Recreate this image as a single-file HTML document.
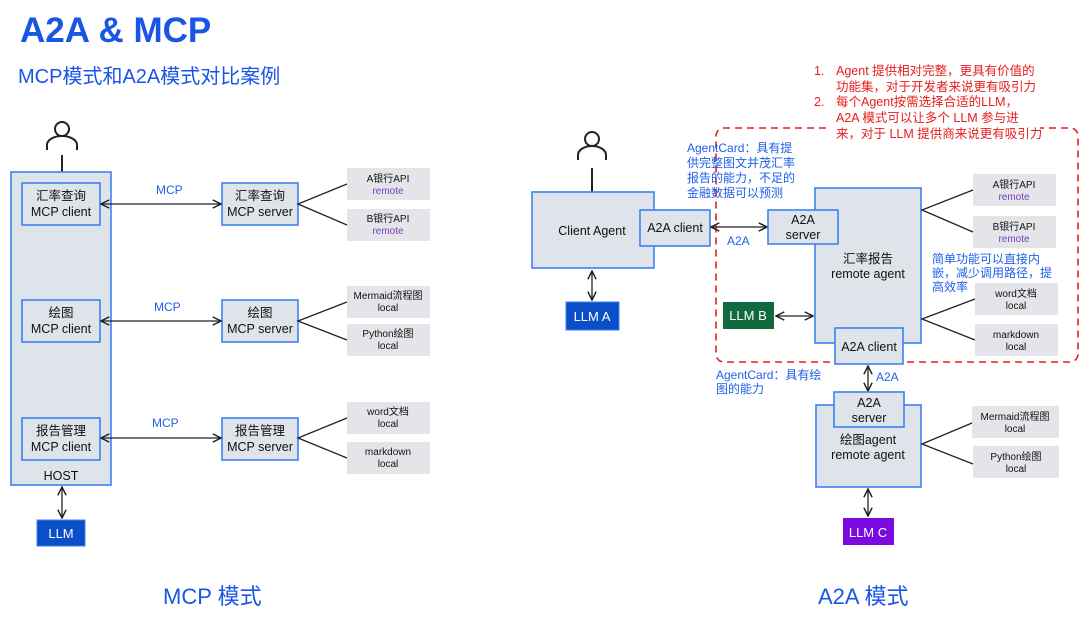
<!DOCTYPE html>
<html><head><meta charset="utf-8"><style>
html,body{margin:0;padding:0;background:#fff;}
svg{display:block;font-family:"Liberation Sans","Noto Sans CJK SC",sans-serif;}
.b{fill:#dfe3ea;stroke:#3b82f0;stroke-width:1.6}
.r{fill:#e3e5e9;}
.t{font-size:12.5px;fill:#111;text-anchor:middle}
.s{font-size:10px;fill:#111;text-anchor:middle}
.p{font-size:10px;fill:#7a3fc0;text-anchor:middle}
.l{stroke:#222;stroke-width:1.3;fill:none}
.bl{fill:#1f5fe8;font-size:12px}
.rd{fill:#e81c1c;font-size:12.5px}
</style></head><body>
<svg width="1080" height="622" viewBox="0 0 1080 622">
<defs><marker id="a" viewBox="0 0 10 10" refX="9" refY="5" markerWidth="8" markerHeight="8" orient="auto-start-reverse"><path d="M1,1 L9,5 L1,9" fill="none" stroke="#222" stroke-width="1.4"/></marker></defs>
<text x="20" y="42" font-size="35" font-weight="bold" fill="#1a55e6">A2A &amp; MCP</text>
<text x="18" y="83" font-size="20" fill="#1a55e6">MCP模式和A2A模式对比案例</text>

<!-- LEFT -->
<circle cx="62" cy="129" r="7" fill="none" stroke="#222" stroke-width="2"/>
<path d="M47,150 v-5 a15,9 0 0 1 30,0 v5" fill="none" stroke="#222" stroke-width="2"/>
<line x1="62" y1="155" x2="62" y2="172" stroke="#222" stroke-width="2"/>
<rect class="b" x="11" y="172" width="100" height="313"/>
<text class="t" x="61" y="480">HOST</text>
<g>
<rect class="b" x="22" y="183" width="78" height="42"/><text class="t" x="61" y="200">汇率查询</text><text class="t" x="61" y="216">MCP client</text>
<rect class="b" x="22" y="300" width="78" height="42"/><text class="t" x="61" y="317">绘图</text><text class="t" x="61" y="333">MCP client</text>
<rect class="b" x="22" y="418" width="78" height="42"/><text class="t" x="61" y="435">报告管理</text><text class="t" x="61" y="451">MCP client</text>
<rect class="b" x="222" y="183" width="76" height="42"/><text class="t" x="260" y="200">汇率查询</text><text class="t" x="260" y="216">MCP server</text>
<rect class="b" x="222" y="300" width="76" height="42"/><text class="t" x="260" y="317">绘图</text><text class="t" x="260" y="333">MCP server</text>
<rect class="b" x="222" y="418" width="76" height="42"/><text class="t" x="260" y="435">报告管理</text><text class="t" x="260" y="451">MCP server</text>
</g>
<line class="l" x1="101" y1="204" x2="221" y2="204" marker-start="url(#a)" marker-end="url(#a)"/>
<line class="l" x1="101" y1="321" x2="221" y2="321" marker-start="url(#a)" marker-end="url(#a)"/>
<line class="l" x1="101" y1="438" x2="221" y2="438" marker-start="url(#a)" marker-end="url(#a)"/>
<text class="bl" x="156" y="194">MCP</text><text class="bl" x="154" y="311">MCP</text><text class="bl" x="152" y="427">MCP</text>
<rect class="r" x="347" y="168" width="83" height="32"/><text class="s" x="388" y="182">A银行API</text><text class="p" x="388" y="194">remote</text>
<rect class="r" x="347" y="209" width="83" height="32"/><text class="s" x="388" y="222">B银行API</text><text class="p" x="388" y="234">remote</text>
<rect class="r" x="347" y="286" width="83" height="32"/><text class="s" x="388" y="299">Mermaid流程图</text><text class="s" x="388" y="311">local</text>
<rect class="r" x="347" y="324" width="83" height="32"/><text class="s" x="388" y="337">Python绘图</text><text class="s" x="388" y="349">local</text>
<rect class="r" x="347" y="402" width="83" height="32"/><text class="s" x="388" y="415">word文档</text><text class="s" x="388" y="427">local</text>
<rect class="r" x="347" y="442" width="83" height="32"/><text class="s" x="388" y="455">markdown</text><text class="s" x="388" y="467">local</text>
<path class="l" d="M347,184 L298,204 L347,225 M347,302 L298,321 L347,340 M347,418 L298,438 L347,458"/>
<line class="l" x1="62" y1="487" x2="62" y2="518" marker-start="url(#a)" marker-end="url(#a)"/>
<rect x="37" y="520" width="48" height="26" fill="#0b4fc8" stroke="#3b82f0"/>
<text x="61" y="538" font-size="13" fill="#fff" text-anchor="middle">LLM</text>
<text x="163" y="604" font-size="22" fill="#1a55e6">MCP 模式</text>

<!-- RIGHT -->
<text class="rd" x="814" y="75">1.</text><text class="rd" x="836" y="75">Agent 提供相对完整，更具有价值的</text>
<text class="rd" x="836" y="91">功能集，对于开发者来说更有吸引力</text>
<text class="rd" x="814" y="106">2.</text><text class="rd" x="836" y="106">每个Agent按需选择合适的LLM，</text>
<text class="rd" x="836" y="122">A2A 模式可以让多个 LLM 参与进</text>
<text class="rd" x="836" y="138">来，对于 LLM 提供商来说更有吸引力</text>
<path d="M826,128 H724 a8,8 0 0 0 -8,8 V354 a8,8 0 0 0 8,8 H1070 a8,8 0 0 0 8,-8 V136 a8,8 0 0 0 -8,-8 H1040" fill="none" stroke="#e81c1c" stroke-width="1.6" stroke-dasharray="7,5"/>

<circle cx="592" cy="139" r="7" fill="none" stroke="#222" stroke-width="2"/>
<path d="M578,160 v-5 a14,9 0 0 1 28,0 v5" fill="none" stroke="#222" stroke-width="2"/>
<line x1="592" y1="168" x2="592" y2="192" stroke="#222" stroke-width="2"/>
<rect class="b" x="532" y="192" width="122" height="76"/>
<text class="t" x="592" y="235">Client Agent</text>
<rect class="b" x="640" y="210" width="70" height="36"/><text class="t" x="675" y="232">A2A client</text>
<line class="l" x1="592" y1="271" x2="592" y2="300" marker-start="url(#a)" marker-end="url(#a)"/>
<rect x="566" y="302" width="53" height="28" fill="#0b4fc8" stroke="#3b82f0"/>
<text x="592" y="321" font-size="13" fill="#fff" text-anchor="middle">LLM A</text>

<text class="bl" x="687" y="152">AgentCard：具有提</text>
<text class="bl" x="687" y="167">供完整图文并茂汇率</text>
<text class="bl" x="687" y="182">报告的能力，不足的</text>
<text class="bl" x="687" y="197">金融数据可以预测</text>

<line class="l" x1="711" y1="227" x2="767" y2="227" marker-start="url(#a)" marker-end="url(#a)"/>
<text class="bl" x="727" y="245">A2A</text>
<rect class="b" x="815" y="188" width="106" height="155"/>
<text class="t" x="868" y="263">汇率报告</text><text class="t" x="868" y="278">remote agent</text>
<rect class="b" x="768" y="210" width="70" height="34"/><text class="t" x="803" y="224">A2A</text><text class="t" x="803" y="239">server</text>
<rect class="b" x="835" y="328" width="68" height="36"/><text class="t" x="869" y="351">A2A client</text>
<rect x="723" y="302" width="51" height="27" fill="#0f6b3e"/>
<text x="748" y="320" font-size="13" fill="#fff" text-anchor="middle">LLM B</text>
<line class="l" x1="776" y1="316" x2="813" y2="316" marker-start="url(#a)" marker-end="url(#a)"/>

<rect class="r" x="973" y="174" width="83" height="32"/><text class="s" x="1014" y="188">A银行API</text><text class="p" x="1014" y="200">remote</text>
<rect class="r" x="973" y="216" width="83" height="32"/><text class="s" x="1014" y="230">B银行API</text><text class="p" x="1014" y="242">remote</text>
<rect class="r" x="975" y="283" width="83" height="32"/><text class="s" x="1016" y="297">word文档</text><text class="s" x="1016" y="309">local</text>
<rect class="r" x="975" y="324" width="83" height="32"/><text class="s" x="1016" y="338">markdown</text><text class="s" x="1016" y="350">local</text>
<path class="l" d="M973,190 L922,210 L973,232 M975,299 L922,319 L975,340"/>
<text class="bl" x="932" y="263" font-size="11">简单功能可以直接内</text>
<text class="bl" x="932" y="277" font-size="11">嵌，减少调用路径，提</text>
<text class="bl" x="932" y="291" font-size="11">高效率</text>

<text class="bl" x="716" y="379">AgentCard：具有绘</text>
<text class="bl" x="716" y="393">图的能力</text>
<line class="l" x1="868" y1="366" x2="868" y2="391" marker-start="url(#a)" marker-end="url(#a)"/>
<text class="bl" x="876" y="381">A2A</text>
<rect class="b" x="816" y="405" width="105" height="82"/>
<text class="t" x="868" y="444">绘图agent</text><text class="t" x="868" y="459">remote agent</text>
<rect class="b" x="834" y="392" width="70" height="35"/><text class="t" x="869" y="407">A2A</text><text class="t" x="869" y="422">server</text>
<rect class="r" x="972" y="406" width="87" height="32"/><text class="s" x="1015" y="420">Mermaid流程图</text><text class="s" x="1015" y="432">local</text>
<rect class="r" x="973" y="446" width="86" height="32"/><text class="s" x="1016" y="460">Python绘图</text><text class="s" x="1016" y="472">local</text>
<path class="l" d="M972,423 L922,444 L973,464"/>
<line class="l" x1="868" y1="489" x2="868" y2="516" marker-start="url(#a)" marker-end="url(#a)"/>
<rect x="843" y="518" width="51" height="27" fill="#7a0be0"/>
<text x="868" y="537" font-size="13" fill="#fff" text-anchor="middle">LLM C</text>
<text x="818" y="604" font-size="22" fill="#1a55e6">A2A 模式</text>
</svg>
</body></html>
